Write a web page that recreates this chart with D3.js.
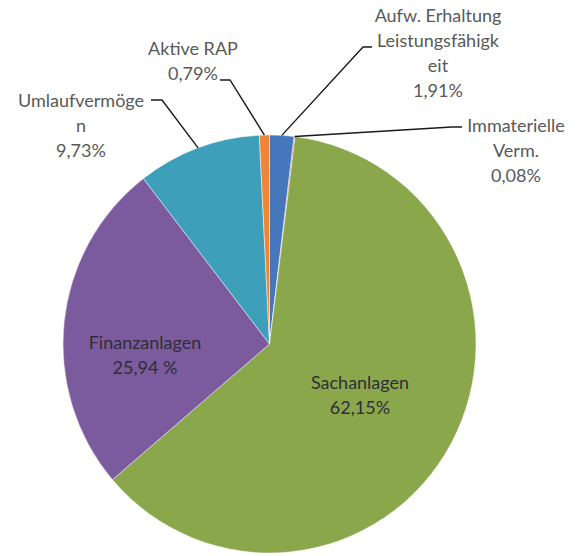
<!DOCTYPE html>
<html>
<head>
<meta charset="utf-8">
<script src="https://cdn.jsdelivr.net/npm/d3@7"></script>
<style>
  html, body { margin: 0; padding: 0; background: #ffffff; }
  svg { display: block; }
</style>
</head>
<body>
<svg id="chart" width="578" height="556"></svg>
<script>
// ---- data (clockwise from 12 o'clock) ----
const categories = ["Aufw. Erhaltung Leistungsfähigkeit", "Immaterielle Verm.", "Sachanlagen", "Finanzanlagen", "Umlaufvermögen", "Aktive RAP"];
const values = [1.91, 0.08, 62.15, 25.94, 9.73, 0.79];
const valueLabels = ["1,91%", "0,08%", "62,15%", "25,94 %", "9,73%", "0,79%"];
const labelLines = [
  ["Aufw. Erhaltung", "Leistungsfähigk", "eit"],
  ["Immaterielle", "Verm."],
  ["Sachanlagen"],
  ["Finanzanlagen"],
  ["Umlaufvermöge", "n"],
  ["Aktive RAP"]
];
const colors = ["#4676bc", "#c0504d", "#8aa74c", "#7b5b9e", "#3e9fbb", "#f08536"];

// ---- layout ----
const W = 578, H = 556;
const cx = 269.5, cy = 344, R = 209, sx = 206.5 / 209;
const lineH = 25;
// label layout: first-line centre, whether inside, leader elbow (start, end)
const labelLayout = [
  { x: 438, y: 15, inside: false, elbow: [[372, 47], [363, 47]] },
  { x: 516, y: 125, inside: false, elbow: [[462, 127], [452, 127]] },
  { x: 360, y: 382, inside: true },
  { x: 145, y: 342, inside: true },
  { x: 81, y: 100, inside: false, elbow: [[151, 100], [162, 100]] },
  { x: 193, y: 48, inside: false, elbow: [[220, 80], [230, 80]] }
];

const svg = d3.select("#chart");
const g = svg.append("g").attr("transform", `translate(${cx},${cy}) scale(${sx},1)`);

const pie = d3.pie().sort(null).startAngle(0).endAngle(2 * Math.PI).value(d => d);
const arcs = pie(values);
const arc = d3.arc().innerRadius(0).outerRadius(R);

g.selectAll("path.slice")
  .data(arcs)
  .join("path")
  .attr("class", "slice")
  .attr("d", arc)
  .attr("fill", (d, i) => colors[i])
  .attr("stroke", "#ffffff")
  .attr("stroke-width", 0.8)
  .attr("stroke-opacity", 0.6);

// leader lines
const fontFam = "Lato, 'Noto Sans', sans-serif";
arcs.forEach((a, i) => {
  const L = labelLayout[i];
  if (L.inside) return;
  const mid = (a.startAngle + a.endAngle) / 2;
  const px = cx + Math.sin(mid) * R * sx;
  const py = cy - Math.cos(mid) * R;
  const pts = [L.elbow[0], L.elbow[1], [px, py]];
  svg.append("path")
    .attr("d", d3.line()(pts))
    .attr("fill", "none")
    .attr("stroke", "#1a1a1a")
    .attr("stroke-width", 1.4);
});

// labels
arcs.forEach((a, i) => {
  const L = labelLayout[i];
  const lines = labelLines[i].concat([valueLabels[i]]);
  const t = svg.append("text")
    .attr("text-anchor", "middle")
    .attr("font-family", fontFam)
    .attr("font-size", 18)
    .attr("fill", L.inside ? "#2e2e36" : "#595959");
  lines.forEach((ln, k) => {
    t.append("tspan")
      .attr("x", L.x)
      .attr("y", L.y + k * lineH)
      .attr("dominant-baseline", "central")
      .text(ln);
  });
});
</script>
</body>
</html>
